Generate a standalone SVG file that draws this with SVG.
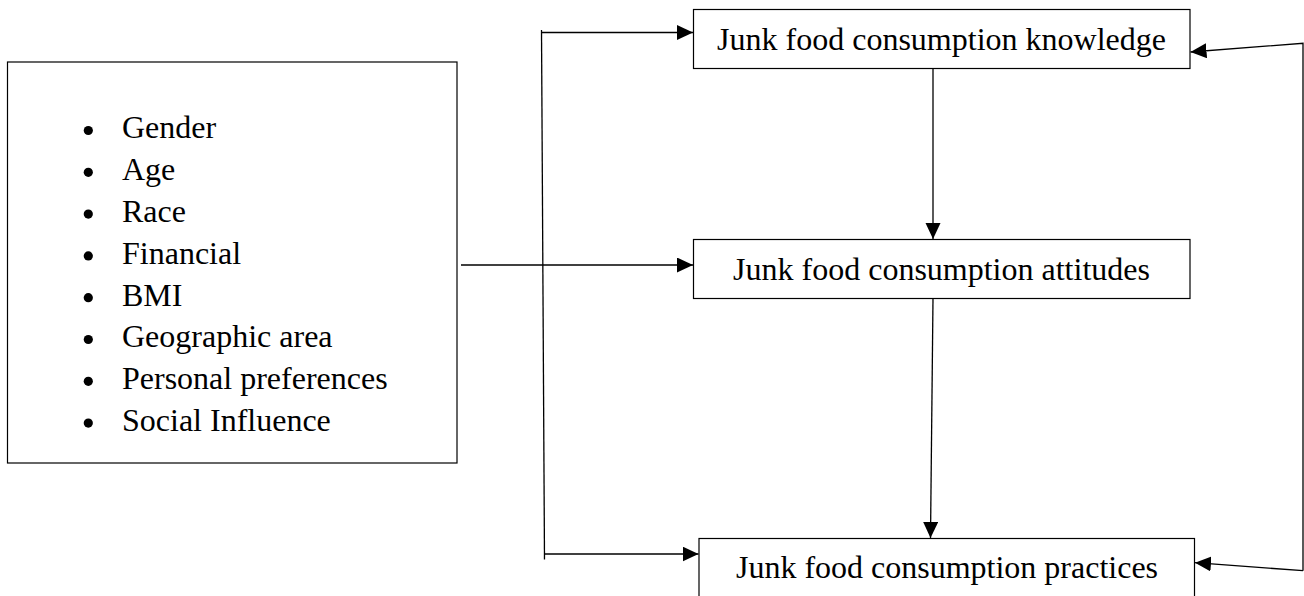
<svg xmlns="http://www.w3.org/2000/svg" width="1304" height="596" viewBox="0 0 1304 596">
  <style>
    .box { fill: #fff; stroke: #000; stroke-width: 1.2; }
    .lbl { font-family: "Liberation Serif", "Times New Roman", serif; font-size: 32px; fill: #000; }
    .bul { fill: #000; }
    .conn { fill: none; stroke: #000; stroke-width: 1.3; }
  </style>
  <defs>
    <marker id="arr" markerUnits="userSpaceOnUse" markerWidth="16" markerHeight="16" refX="16" refY="7.5" orient="auto">
      <path d="M0,0 L16,7.5 L0,15 z" fill="#000"/>
    </marker>
  </defs>
  <rect width="1304" height="596" fill="#fff"/>

  <g id="factors">
    <rect class="box" x="7.5" y="62" width="449.5" height="401"/>
    <g class="bul">
      <circle cx="88.3" cy="130.5" r="4.6"/>
      <circle cx="88.3" cy="172.3" r="4.6"/>
      <circle cx="88.3" cy="214.1" r="4.6"/>
      <circle cx="88.3" cy="255.9" r="4.6"/>
      <circle cx="88.3" cy="297.7" r="4.6"/>
      <circle cx="88.3" cy="339.5" r="4.6"/>
      <circle cx="88.3" cy="381.3" r="4.6"/>
      <circle cx="88.3" cy="423.1" r="4.6"/>
    </g>
    <g class="lbl">
      <text x="122" y="138.3">Gender</text>
      <text x="122" y="180.1">Age</text>
      <text x="122" y="221.9">Race</text>
      <text x="122" y="263.7">Financial</text>
      <text x="122" y="305.5">BMI</text>
      <text x="122" y="347.3">Geographic area</text>
      <text x="122" y="389.1">Personal preferences</text>
      <text x="122" y="430.9">Social Influence</text>
    </g>
  </g>

  <g id="knowledge">
    <rect class="box" x="693.5" y="9.5" width="496.5" height="59"/>
    <text class="lbl" x="941.5" y="50" text-anchor="middle">Junk food consumption knowledge</text>
  </g>

  <g id="attitudes">
    <rect class="box" x="693.5" y="239.5" width="496.5" height="59"/>
    <text class="lbl" x="941.5" y="280" text-anchor="middle">Junk food consumption attitudes</text>
  </g>

  <g id="practices">
    <rect class="box" x="699" y="538.5" width="495.5" height="70"/>
    <text class="lbl" x="947" y="578" text-anchor="middle">Junk food consumption practices</text>
  </g>

  <g id="connectors">
    <line class="conn" x1="541.5" y1="30" x2="544.5" y2="559.5"/>
    <line class="conn" x1="541.5" y1="32.5" x2="693" y2="32.5" marker-end="url(#arr)"/>
    <line class="conn" x1="461" y1="265" x2="693" y2="265" marker-end="url(#arr)"/>
    <line class="conn" x1="544.5" y1="554" x2="698.5" y2="554" marker-end="url(#arr)"/>
    <line class="conn" x1="933" y1="68.5" x2="933" y2="239" marker-end="url(#arr)"/>
    <line class="conn" x1="933" y1="298.5" x2="930.5" y2="538" marker-end="url(#arr)"/>
    <polyline class="conn" points="1303,570.7 1303,43.3 1190.5,52" marker-end="url(#arr)"/>
    <line class="conn" x1="1303" y1="570.7" x2="1195" y2="562.7" marker-end="url(#arr)"/>
  </g>
</svg>
